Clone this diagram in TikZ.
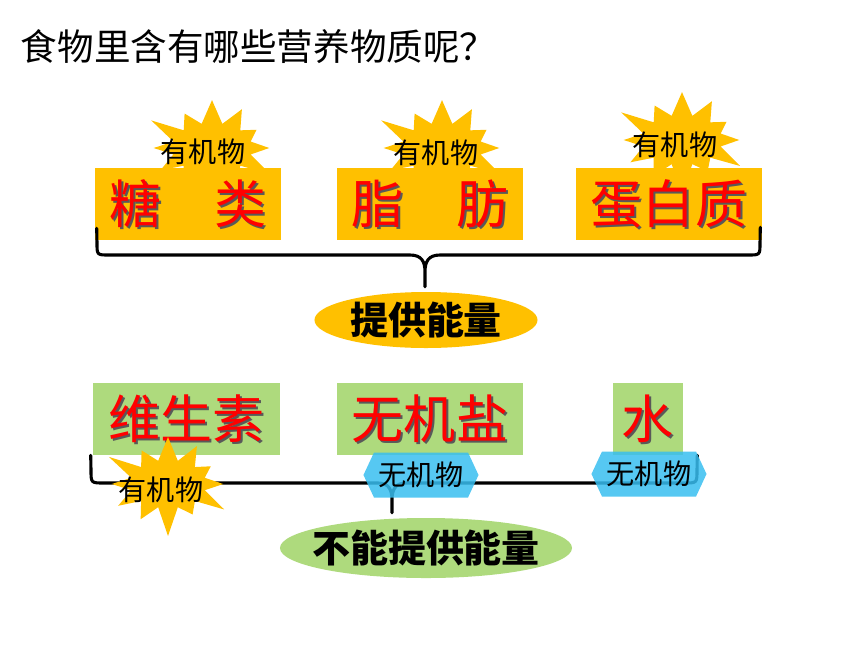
\documentclass[tikz,border=0pt]{standalone}
\usepackage{fontspec}
\setmainfont{Noto Sans CJK SC}
\usetikzlibrary{shapes.symbols,shapes.geometric,calc}

\definecolor{orangebox}{RGB}{255,192,0}
\definecolor{greenbox}{RGB}{174,218,125}
\definecolor{bluehex}{RGB}{56,190,240}
\definecolor{redword}{RGB}{255,0,0}

\tikzset{
  nutbox/.style={minimum height=1.8cm, inner sep=0pt},
  bigword/.style={font=\fontsize{37}{40}\selectfont, text=redword},
  wordshadow/.style={font=\fontsize{37}{40}\selectfont, text=black!65},
  burst/.style={starburst, fill=orangebox, starburst points=12, starburst point height=0.8cm,
    minimum width=3.6cm, minimum height=2.85cm, inner sep=0pt},
  tag/.style={font=\fontsize{20}{22}\selectfont},
  hexbox/.style={signal, signal to=west and east, signal pointer angle=130, fill=bluehex,
    fill opacity=0.85, text opacity=1, minimum width=2.875cm, minimum height=1.125cm,
    inner sep=0pt, font=\fontsize{20}{22}\selectfont},
  sumoval/.style={ellipse, inner sep=0pt},
  sumword/.style={font=\fontsize{27}{30}\selectfont\bfseries},
  brace/.style={line width=2.2pt, line join=round, line cap=round},
}

\begin{document}
\begin{tikzpicture}[x=0.025cm, y=-0.025cm]
\useasboundingbox (0,0) rectangle (860,645);

\node[anchor=west, font=\fontsize{26}{30}\selectfont] (title) at (16,47) {食物里含有哪些营养物质呢？};

% 有机物 (上)
\foreach \nm/\x/\y in {sa/212/148, sb/442/148, sc/682/140}
  \node[burst] (\nm) at (\x,\y) {};

% 供能物质
\foreach \nm/\x/\word in {tang/188/糖　类, zhi/430/脂　肪, dan/669/蛋白质}{
  \node[nutbox, fill=orangebox, minimum width=4.65cm] (\nm) at (\x,204) {};
  \node[wordshadow] (\nm-s) at ($(\nm)+(2,2)$) {\word};
  \node[bigword] (\nm-w) at (\nm) {\word};
}

\foreach \nm/\x/\y in {sa/203/152, sb/436/153, sc/675/145}
  \node[tag] (\nm-t) at (\x,\y) {有机物};

\node[sumoval, fill=orangebox, minimum width=5.575cm, minimum height=1.4cm] (energy) at (426,320) {};
\node[sumword] (energy-t) at (energy) {提供能量};

\coordinate (topleft) at ($(tang.south west)+(2,-12)$);
\coordinate (topright) at ($(dan.south east)+(-2,-13)$);
\coordinate (toptip) at ($(energy.north)+(-1,-5)$);
\draw[brace] (topleft) -- (97,243) .. controls (97,255) .. (109,255) -- (410,255)
  .. controls (422,255) and (425,262) .. (425,272) -- (toptip) -- (425,272)
  .. controls (425,262) and (428,255) .. (440,255) -- (748,255)
  .. controls (760,255) .. (760,243) -- (topright);

% 不供能物质
\foreach \nm/\x/\w/\word in {wei/186.5/4.675/维生素, wuji/430/4.65/无机盐, shui/648/1.75/水}{
  \node[nutbox, fill=greenbox, minimum width=\w cm] (\nm) at (\x,419) {};
  \node[wordshadow] (\nm-s) at ($(\nm)+(2,2)$) {\word};
  \node[bigword] (\nm-w) at (\nm) {\word};
}

\node[sumoval, fill=greenbox, minimum width=7.3cm, minimum height=1.5cm] (noenergy) at (426,548) {};
\node[sumword] (noenergy-t) at (noenergy) {不能提供能量};

\coordinate (lowleft) at ($(wei.south west)+(-2,0)$);
\coordinate (lowright) at ($(shui.south east)+(14,0)$);
\coordinate (lowtip) at ($(noenergy.north)+(-34,-5)$);
\draw[brace] (lowleft) -- (91,470) .. controls (91,483) .. (104,483) -- (378,483)
  .. controls (389,483) and (392,490) .. (392,500) -- (lowtip) -- (392,500)
  .. controls (392,490) and (395,483) .. (406,483) -- (684,483)
  .. controls (697,483) .. (697,470) -- (lowright);

\node[burst, minimum width=3.5cm, minimum height=2.8cm] (sd) at (168,484) {};
\node[tag] (sd-t) at (161,490) {有机物};

\node[hexbox] (ha) at (421,475) {无机物};
\node[hexbox] (hb) at (649,474) {无机物};
\end{tikzpicture}
\end{document}
